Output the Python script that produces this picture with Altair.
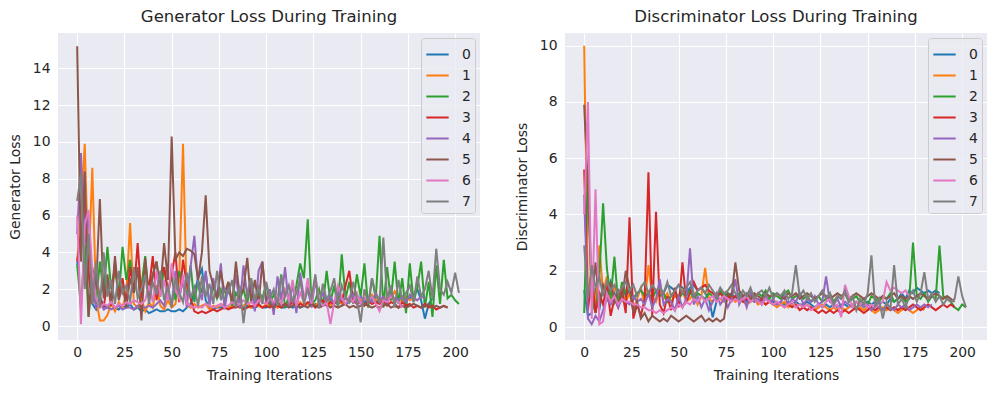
import altair as alt
import pandas as pd

STEP = 2  # iterations between stored values
SERIES = ["0", "1", "2", "3", "4", "5", "6", "7"]
COLORS = ["#1f77b4", "#ff7f0e", "#2ca02c", "#d62728", "#9467bd", "#8c564b", "#e377c2", "#7f7f7f"]
ITER_TICKS = [0, 25, 50, 75, 100, 125, 150, 175, 200]
G_TICKS = [0, 2, 4, 6, 8, 10, 12, 14]
D_TICKS = [0, 2, 4, 6, 8, 10]

# ---------------- Generator loss ----------------
G0 = [3.3, 5.0, 6.4, 3.0, 1.2, 0.9, 1.6, 1.1, 1.0, 1.3,
      1.0, 0.9, 1.1, 1.0, 1.2, 0.9, 1.0, 0.8, 0.9, 0.7,
      0.8, 0.9, 0.8, 0.8, 0.9, 0.8, 0.8, 0.9, 0.8, 1.0,
      1.2, 1.8, 2.6, 3.1, 1.4, 1.0, 0.9, 1.0, 1.0, 1.1,
      1.0, 1.0, 1.1, 1.0, 1.0, 1.1, 1.0, 1.0, 1.1, 1.0,
      1.0, 1.1, 1.0, 1.1, 1.0, 1.0, 1.1, 1.0, 1.1, 1.0,
      1.1, 1.2, 1.1, 1.2, 1.1, 1.2, 1.2, 1.1, 1.3, 1.2,
      1.3, 1.2, 1.3, 1.4, 1.3, 1.4, 1.3, 1.4, 1.5, 1.3,
      1.4, 1.5, 1.4, 1.6, 1.4, 1.5, 1.6, 1.4, 1.5, 1.7,
      2.0, 1.4, 0.4, 1.2, 1.5]
G1 = [3.6, 6.0, 9.9, 3.0, 8.6, 1.5, 0.3, 0.3, 0.6, 1.2,
      0.8, 1.3, 1.0, 1.8, 5.6, 1.2, 1.0, 1.5, 0.8, 1.3,
      1.0, 2.2, 1.1, 0.9, 1.4, 1.0, 1.2, 2.5, 9.9, 1.3,
      1.0, 1.2, 1.0, 1.1, 1.2, 0.9, 1.1, 1.0, 1.2, 1.1,
      1.0, 1.1, 1.2, 1.0, 1.1, 1.3, 1.0, 1.2, 1.1, 1.0,
      1.2, 1.1, 1.3, 1.0, 1.2, 1.1, 1.4, 1.2, 1.0, 1.3,
      1.1, 1.2, 1.4, 1.1, 1.3, 1.2, 1.5, 1.1, 1.3, 1.4,
      1.2, 1.5, 1.3, 1.6, 1.2, 1.4, 1.5, 1.3, 1.7, 1.4,
      1.5, 1.3, 1.6, 1.4, 1.9, 1.5, 1.3, 1.6, 1.4, 1.5,
      1.4]
G2 = [3.3, 1.0, 4.5, 0.5, 2.8, 1.2, 3.5, 1.8, 4.3, 2.0,
      3.2, 1.5, 4.3, 2.5, 3.6, 1.8, 3.0, 2.2, 3.8, 1.5,
      2.8, 3.5, 1.6, 3.2, 2.0, 2.7, 1.4, 3.0, 2.2, 1.7,
      3.3, 1.3, 2.5, 1.8, 2.9, 1.2, 2.2, 1.5, 2.0, 1.3,
      2.4, 1.1, 1.8, 1.4, 2.0, 1.2, 2.6, 1.0, 1.9, 1.5,
      2.3, 1.2, 1.7, 1.4, 2.8, 1.0, 1.6, 1.3, 2.2, 3.4,
      2.6, 5.8, 1.2, 1.4, 2.0, 1.1, 3.0, 1.3, 2.2, 1.0,
      3.9, 1.5, 2.4, 1.2, 2.8, 1.6, 3.4, 1.0, 2.6, 1.5,
      4.9, 1.0, 3.2, 1.4, 3.5, 1.2, 2.6, 0.7, 3.4, 1.3,
      2.1, 3.5, 1.0, 2.4, 0.5, 3.3, 1.2, 3.6, 1.5, 1.7,
      1.4, 1.2]
G3 = [3.5, 5.0, 6.7, 3.0, 1.2, 2.8, 1.5, 1.0, 2.4, 1.1,
      3.5, 1.6, 2.6, 1.2, 3.2, 1.8, 4.5, 1.5, 3.0, 2.0,
      3.8, 1.4, 2.6, 3.2, 1.7, 2.8, 4.0, 1.3, 3.6, 2.3,
      1.5, 0.8, 0.7, 0.8, 0.7, 0.8, 0.9, 0.8, 0.9, 1.0,
      0.9, 1.0, 1.0, 1.1, 0.9, 1.0, 1.1, 1.0, 1.2, 1.0,
      1.1, 1.0, 1.2, 1.1, 1.0, 1.2, 1.1, 1.3, 1.0, 1.2,
      1.1, 1.3, 1.2, 1.0, 1.2, 1.4, 1.1, 1.3, 1.2, 1.5,
      1.3, 2.2, 3.0, 1.4, 1.2, 1.3, 1.1, 1.4, 1.2, 1.3,
      1.2, 1.4, 1.1, 1.3, 1.2, 1.0, 1.3, 1.1, 1.2, 1.0,
      1.1, 1.0, 1.2, 1.0, 1.1, 0.9, 1.0, 1.1, 1.0]
G4 = [5.0, 9.4, 4.5, 6.0, 2.0, 1.0, 1.3, 0.9, 1.0, 0.9,
      1.0, 1.1, 0.9, 1.0, 1.0, 0.9, 1.1, 1.0, 1.0, 1.1,
      1.0, 1.2, 1.4, 1.1, 2.0, 1.2, 3.0, 1.5, 2.5, 1.0,
      3.2, 4.9, 2.2, 1.4, 3.0, 1.1, 2.6, 1.5, 3.4, 0.9,
      2.2, 1.3, 2.8, 1.0, 3.3, 1.6, 2.4, 0.8, 3.0, 3.5,
      1.2, 2.0, 0.6, 2.7, 1.4, 3.2, 1.1, 2.3, 0.7, 2.9,
      1.5, 2.0, 1.0, 2.5, 1.2, 1.8, 1.3, 1.6, 1.2, 1.8,
      1.4, 1.5, 1.3, 1.7, 1.2, 1.6, 1.4, 1.5, 1.3, 1.8,
      1.4, 1.6, 1.2, 1.7, 1.5, 1.4, 1.6, 1.3, 1.7, 1.5,
      1.4, 1.6, 1.5]
G5 = [15.2, 3.5, 8.4, 0.5, 3.2, 2.0, 6.9, 1.5, 2.8, 1.2,
      3.8, 1.4, 2.2, 1.0, 2.6, 1.8, 3.2, 0.3, 3.7, 1.5,
      2.8, 3.5, 2.0, 4.5, 2.5, 10.3, 3.6, 4.0, 3.8, 4.2,
      4.1, 3.9, 2.5, 4.0, 7.1, 3.0, 2.2, 1.5, 3.0, 1.8,
      2.4, 1.2, 3.5, 1.6, 2.0, 3.7, 1.3, 2.5, 1.2, 3.5,
      1.4, 1.2, 1.0, 1.3, 1.1, 1.2, 1.0, 1.1, 1.2, 1.0,
      1.1, 1.0, 1.2, 1.1, 1.0, 1.1, 1.2, 1.0, 1.1, 1.0,
      1.1, 1.2, 1.0, 1.1, 1.0, 1.1, 1.2, 1.1, 1.0, 1.1,
      1.0, 1.1, 1.2, 1.0, 1.1, 1.0, 1.1, 1.0, 1.1, 1.2,
      1.1, 1.0, 1.1, 1.2, 1.0, 1.1, 1.0, 1.1, 1.0]
G6 = [6.0, 0.1, 5.5, 6.3, 3.0, 1.5, 1.0, 1.2, 1.1, 1.3,
      1.0, 1.2, 1.1, 1.3, 1.2, 1.4, 1.3, 1.2, 1.4, 2.2,
      1.3, 3.0, 1.6, 2.5, 1.4, 3.4, 2.0, 1.5, 2.8, 1.2,
      1.1, 1.0, 1.1, 1.0, 1.2, 1.1, 1.0, 1.1, 1.2, 1.0,
      1.1, 1.3, 1.1, 1.2, 1.4, 1.2, 1.3, 1.1, 1.4, 1.3,
      1.2, 1.5, 1.3, 1.6, 1.2, 2.0, 1.4, 2.5, 1.1, 1.8,
      1.3, 2.6, 1.2, 2.7, 1.4, 1.1, 1.3, 0.1, 1.3, 2.2,
      1.5, 1.2, 1.6, 1.3, 1.8, 1.2, 1.5, 1.4, 1.6, 1.2,
      0.8, 1.4, 1.3, 1.6, 1.4, 1.3, 1.0]
G7 = [6.8, 8.3, 2.0, 5.0, 1.2, 3.5, 1.0, 4.0, 1.6, 2.5,
      1.2, 3.0, 1.8, 2.2, 1.3, 3.2, 1.5, 2.0, 2.8, 1.2,
      2.4, 1.7, 3.0, 1.4, 2.2, 1.0, 2.6, 1.8, 1.3, 2.9,
      1.5, 2.1, 1.1, 2.7, 1.6, 2.3, 1.2, 3.0, 1.4, 2.0,
      1.8, 2.5, 1.0, 2.2, 0.15, 1.8, 2.6, 1.4, 2.1, 1.2,
      2.4, 1.5, 2.0, 1.1, 2.7, 1.6, 2.2, 1.3, 1.8, 2.5,
      1.2, 2.0, 1.5, 2.8, 1.0, 2.3, 1.4, 1.9, 2.6, 1.1,
      2.2, 1.6, 1.3, 2.4, 1.5, 0.2, 2.0, 1.2, 2.6, 1.7,
      1.3, 4.8, 1.5, 2.2, 1.0, 2.5, 1.4, 1.8, 2.2, 1.3,
      2.7, 1.6, 2.0, 3.0, 1.5, 4.2, 2.0, 1.7, 2.4, 1.8,
      2.9, 1.8]

# ---------------- Discriminator loss ----------------
D0 = [1.3, 0.4, 0.5, 1.4, 0.6, 1.5, 0.9, 1.6, 1.2, 1.0,
      1.4, 1.1, 1.3, 1.0, 1.2, 1.3, 1.1, 1.2, 1.4, 1.3,
      1.4, 1.2, 1.5, 1.4, 1.3, 1.5, 1.4, 1.2, 1.4, 1.5,
      1.3, 1.4, 1.2, 1.0, 0.35, 0.9, 1.3, 1.2, 1.1, 1.2,
      1.0, 1.1, 1.0, 0.9, 1.0, 0.9, 1.0, 0.9, 1.0, 0.9,
      0.9, 0.8, 0.9, 0.8, 0.9, 0.8, 0.9, 0.8, 0.8, 0.9,
      0.8, 0.7, 0.8, 0.7, 0.8, 0.7, 0.8, 0.7, 0.8, 0.8,
      0.7, 0.8, 0.7, 0.8, 0.8, 0.9, 0.8, 0.9, 0.8, 0.9,
      0.8, 1.0, 0.9, 1.0, 1.2, 1.0, 1.3, 1.2, 1.4, 1.3,
      1.2, 1.3, 1.2, 1.3, 1.2]
D1 = [10.0, 1.0, 2.0, 0.6, 2.9, 1.2, 1.8, 0.8, 1.5, 1.0,
      1.3, 0.9, 1.2, 0.6, 1.0, 1.4, 0.8, 2.2, 1.1, 0.9,
      1.3, 1.0, 1.2, 0.9, 1.1, 1.0, 1.3, 0.9, 1.0, 1.2,
      0.8, 1.1, 2.1, 1.0, 0.9, 1.1, 1.0, 0.9, 1.0, 1.1,
      0.9, 1.0, 0.9, 0.8, 0.9, 1.0, 0.8, 0.9, 0.8, 0.9,
      0.8, 0.7, 0.8, 0.9, 0.7, 0.8, 0.7, 0.8, 0.7, 0.8,
      0.7, 0.6, 0.7, 0.8, 0.7, 0.6, 0.7, 0.6, 0.7, 0.6,
      0.7, 0.8, 0.6, 0.7, 0.6, 0.7, 0.6, 0.5, 0.6, 0.7,
      0.6, 0.7, 0.6, 0.5, 0.6, 0.7, 0.6, 0.5, 0.6, 0.7,
      0.6]
D2 = [0.5, 5.6, 1.0, 0.5, 1.8, 4.4, 2.1, 1.0, 2.5, 0.8,
      1.6, 1.2, 1.4, 1.0, 1.2, 1.3, 1.1, 1.2, 1.0, 1.3,
      1.1, 1.2, 0.9, 1.1, 1.3, 1.0, 1.2, 1.1, 1.3, 1.0,
      1.2, 1.1, 1.0, 1.2, 1.1, 1.0, 1.3, 1.1, 1.2, 1.0,
      1.1, 1.2, 1.0, 1.1, 1.3, 1.0, 1.2, 1.1, 1.3, 1.0,
      1.2, 1.1, 1.0, 1.2, 1.3, 1.0, 1.1, 1.2, 1.0, 1.1,
      0.9, 1.0, 1.1, 0.9, 1.0, 1.2, 0.9, 1.1, 1.0, 1.2,
      0.9, 1.0, 1.1, 0.9, 1.0, 0.8, 1.1, 1.0, 0.9, 1.1,
      1.0, 1.2, 0.9, 1.0, 1.1, 0.9, 1.0, 3.0, 1.1, 1.0,
      1.2, 0.9, 1.1, 1.0, 2.9, 1.1, 1.0, 0.9, 0.7, 0.6,
      0.8, 0.7]
D3 = [5.6, 0.6, 1.8, 0.5, 1.2, 0.8, 1.5, 0.4, 1.0, 0.7,
      1.3, 0.5, 3.9, 0.3, 0.8, 0.4, 1.0, 5.5, 0.4, 4.1,
      0.8, 0.5, 1.1, 0.6, 1.4, 0.7, 2.3, 0.9, 1.2, 1.6,
      1.3, 1.4, 1.5, 1.3, 1.2, 1.1, 1.2, 1.0, 1.1, 1.0,
      1.1, 1.0, 0.9, 1.0, 0.9, 1.1, 0.9, 1.0, 0.8, 0.9,
      0.8, 0.9, 0.8, 0.7, 0.8, 0.7, 0.8, 0.6, 0.7, 0.6,
      0.7, 0.6, 0.5, 0.6, 0.5, 0.6, 0.5, 0.6, 0.5, 0.6,
      0.5, 0.6, 0.7, 0.6, 0.5, 0.6, 0.7, 0.6, 0.7, 0.6,
      0.7, 0.6, 0.7, 0.6, 0.7, 0.6, 0.7, 0.8, 0.7, 0.6,
      0.7, 0.8, 0.7, 0.6, 0.7, 0.8, 0.7, 0.8, 0.7]
D4 = [4.7, 0.3, 0.1, 0.4, 0.2, 0.6, 1.0, 0.8, 1.1, 0.7,
      1.0, 0.9, 0.8, 1.1, 0.9, 1.0, 0.8, 1.2, 0.7, 1.0,
      1.7, 0.8, 1.0, 0.9, 0.6, 1.1, 0.7, 1.0, 2.8, 0.8,
      1.1, 0.7, 1.0, 0.6, 0.9, 1.2, 0.8, 1.0, 0.7, 1.0,
      1.7, 0.8, 1.1, 0.7, 1.2, 0.9, 1.0, 0.8, 1.1, 0.9,
      1.0, 0.8, 0.9, 1.1, 0.8, 1.0, 0.9, 1.2, 0.8, 1.0,
      0.9, 1.1, 0.8, 0.9, 1.8, 0.9, 0.8, 1.0, 0.7, 0.9,
      0.8, 0.7, 0.9, 0.8, 0.7, 0.8, 0.6, 0.8, 0.7, 0.6,
      0.8, 0.7, 0.6, 0.8, 0.7, 0.8, 0.6, 0.7, 0.8, 0.7,
      0.8, 0.7, 0.8]
D5 = [7.9, 4.9, 1.0, 2.3, 0.8, 1.5, 1.1, 1.6, 0.9, 1.3,
      1.0, 2.0, 1.4, 0.5, 0.9, 0.3, 0.5, 0.2, 0.4, 0.3,
      0.2, 0.3, 0.2, 0.4, 0.3, 0.2, 0.3, 0.4, 0.3, 0.2,
      0.3, 0.4, 0.2, 0.3, 0.2, 0.3, 0.2, 0.3, 1.2, 1.1,
      2.3, 1.3, 1.1, 1.2, 1.0, 1.2, 1.1, 1.0, 1.2, 1.1,
      1.1, 1.2, 1.1, 1.0, 1.2, 1.1, 1.2, 1.0, 1.1, 1.2,
      1.1, 1.0, 1.1, 1.2, 1.1, 1.0, 1.1, 1.2, 1.1, 1.2,
      1.0, 1.1, 1.2, 1.1, 1.0, 1.1, 1.2, 1.1, 1.0, 1.1,
      1.0, 1.1, 1.2, 1.0, 1.1, 1.0, 1.1, 1.0, 1.1, 1.2,
      1.1, 1.0, 1.1, 1.2, 1.1, 1.0, 1.1, 1.0, 0.9]
D6 = [4.0, 8.0, 0.3, 4.9, 0.1, 0.2, 1.2, 0.9, 1.1, 0.8,
      1.0, 0.9, 0.9, 0.8, 0.8, 0.7, 0.7, 0.6, 0.6, 0.5,
      0.6, 0.5, 0.6, 0.7, 0.6, 0.8, 0.7, 0.9, 0.8, 1.0,
      0.9, 1.1, 0.9, 1.0, 1.1, 0.9, 1.0, 1.1, 1.0, 0.9,
      1.0, 0.9, 1.0, 1.1, 0.9, 1.0, 0.9, 0.8, 1.0, 0.9,
      0.8, 0.9, 0.8, 0.7, 0.8, 0.9, 0.7, 0.8, 0.7, 0.8,
      0.6, 0.7, 0.8, 0.7, 0.9, 1.0, 0.7, 0.8, 0.35, 1.5,
      1.1, 0.7, 0.9, 0.8, 0.9, 0.7, 0.8, 0.7, 0.8, 0.9,
      1.6, 1.3, 1.4, 1.3, 1.2, 1.3, 1.1]
D7 = [2.9, 1.0, 2.2, 1.4, 1.8, 1.1, 1.6, 1.3, 1.5, 1.2,
      1.4, 1.6, 1.3, 1.5, 1.1, 1.4, 1.6, 1.2, 1.5, 1.3,
      1.4, 1.2, 1.6, 1.1, 1.3, 1.5, 1.2, 1.4, 1.6, 1.1,
      1.3, 1.4, 1.2, 1.5, 1.3, 1.1, 1.4, 1.2, 1.3, 1.5,
      1.2, 1.0, 1.3, 1.1, 1.4, 1.0, 1.2, 1.3, 1.1, 1.4,
      1.0, 1.2, 1.1, 1.3, 1.0, 1.2, 2.2, 1.1, 1.3, 1.0,
      1.2, 0.9, 1.1, 1.3, 1.0, 1.2, 0.8, 1.1, 1.0, 1.3,
      0.9, 1.1, 0.6, 1.0, 0.8, 1.2, 2.55, 0.7, 1.0, 0.3,
      0.9, 0.6, 2.2, 0.8, 1.0, 0.7, 1.1, 1.3, 0.9, 1.2,
      1.95, 1.0, 1.2, 0.9, 1.1, 0.8, 1.0, 0.9, 1.0, 1.8,
      1.1, 0.7]

G_LISTS = [G0, G1, G2, G3, G4, G5, G6, G7]
D_LISTS = [D0, D1, D2, D3, D4, D5, D6, D7]


def to_long(lists):
    rows = []
    for name, vals in zip(SERIES, lists):
        for j, v in enumerate(vals):
            rows.append({"iter": j * STEP, "loss": v, "series": name})
    return pd.DataFrame(rows)


TEXT = "#262626"
FONT = "DejaVu Sans"


def panel(df, title, ytitle, ydom, yticks):
    return alt.Chart(
        df,
        title=alt.Title(title, fontSize=16.5, fontWeight="normal", color=TEXT, font=FONT, offset=8),
    ).mark_line(strokeWidth=2, clip=True).encode(
        x=alt.X("iter:Q",
                scale=alt.Scale(domain=[-10.15, 213.15], nice=False, zero=False),
                axis=alt.Axis(values=ITER_TICKS, title="Training Iterations",
                              labelPadding=5, titlePadding=10)),
        y=alt.Y("loss:Q",
                scale=alt.Scale(domain=ydom, nice=False, zero=False),
                axis=alt.Axis(values=yticks, title=ytitle, labelPadding=8, titlePadding=10)),
        color=alt.Color("series:N",
                        scale=alt.Scale(domain=SERIES, range=COLORS),
                        legend=alt.Legend(title=None, orient="top-right", offset=5)),
        detail="series:N",
    ).properties(width=422, height=307)


left = panel(to_long(G_LISTS), "Generator Loss During Training", "Generator Loss",
             [-0.76, 15.92], G_TICKS)
right = panel(to_long(D_LISTS), "Discriminator Loss During Training", "Discriminator Loss",
              [-0.46, 10.45], D_TICKS)

chart = alt.hconcat(left, right, spacing=35).resolve_scale(color="independent").properties(
    padding={"left": 0, "top": 0, "right": 0, "bottom": 0}
).configure_view(
    fill="#EAEAF2", stroke=None
).configure_axis(
    domain=False, ticks=False, grid=True, gridColor="#FFFFFF", gridWidth=1.1,
    labelFont=FONT, labelFontSize=13.9, labelColor=TEXT,
    titleFont=FONT, titleFontSize=13.9, titleColor=TEXT, titleFontWeight="normal",
).configure_legend(
    fillColor="rgba(234,234,242,0.8)", strokeColor="#CCCCCC", cornerRadius=3,
    padding=4, labelFont=FONT, labelFontSize=13.9, labelColor=TEXT,
    symbolType="stroke", symbolStrokeWidth=2, symbolSize=500, labelOffset=12,
    rowPadding=1,
)

chart.save("out.html", embed_options={"renderer": "svg", "actions": False})
